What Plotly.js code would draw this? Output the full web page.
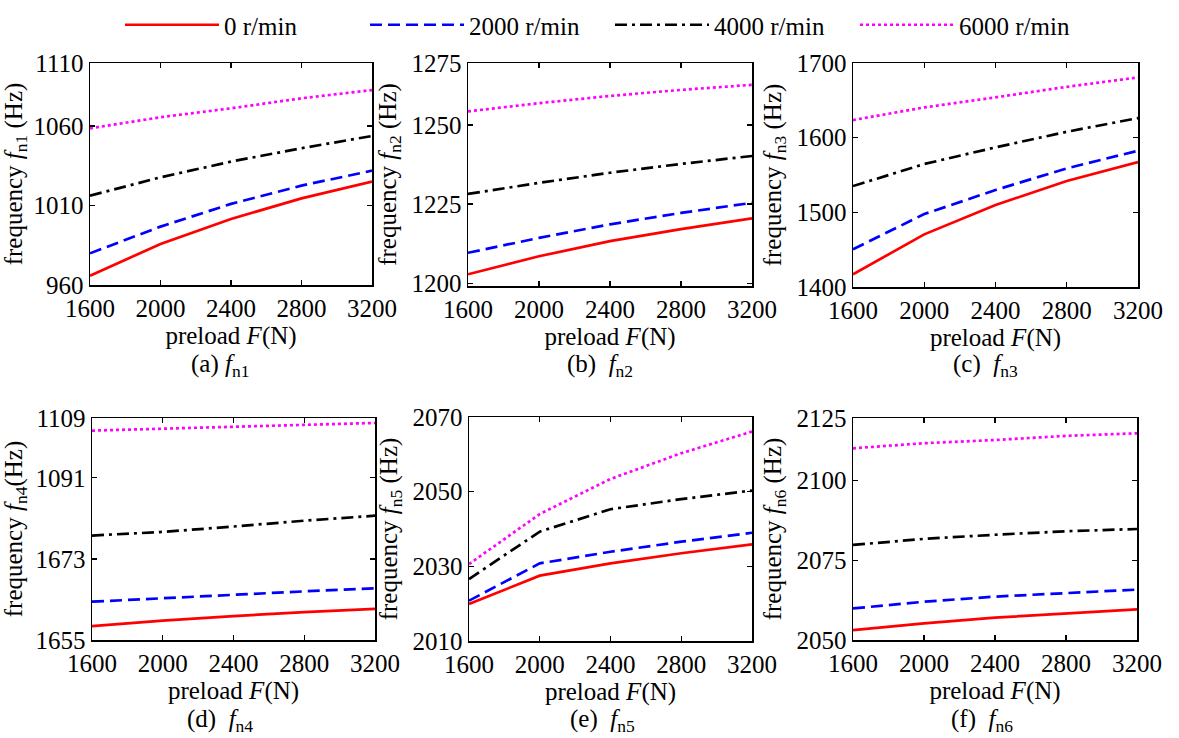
<!DOCTYPE html>
<html>
<head>
<meta charset="utf-8">
<script src="https://cdn.plot.ly/plotly-3.0.1.min.js"></script>
<style>html,body{margin:0;padding:0;background:#fff;}#chart{width:1179px;height:738px;}</style>
</head>
<body>
<div id="chart"></div>
<script>
// ---------- data ----------
const preload = [1600, 2000, 2400, 2800, 3200];
const preloadTickText = ['1600', '2000', '2400', '2800', '3200'];
const speedNames = ['0 r/min', '2000 r/min', '4000 r/min', '6000 r/min'];

const fn1_0    = [965.8, 985.8, 1001.5, 1014.5, 1025.0];
const fn1_2000 = [979.9, 996.7, 1011.0, 1022.5, 1031.9];
const fn1_4000 = [1016.2, 1027.7, 1037.6, 1046.0, 1053.7];
const fn1_6000 = [1058.5, 1065.5, 1071.1, 1077.4, 1082.6];

const fn2_0    = [1202.8, 1208.5, 1213.3, 1217.1, 1220.5];
const fn2_2000 = [1209.6, 1214.3, 1218.6, 1222.2, 1225.4];
const fn2_4000 = [1228.2, 1231.7, 1234.9, 1237.7, 1240.2];
const fn2_6000 = [1254.3, 1256.9, 1259.2, 1261.1, 1262.7];

const fn3_0    = [1417.0, 1470.5, 1509.8, 1541.9, 1567.3];
const fn3_2000 = [1450.5, 1497.7, 1529.9, 1558.9, 1582.5];
const fn3_4000 = [1535.2, 1564.7, 1587.0, 1607.9, 1626.2];
const fn3_6000 = [1623.6, 1640.5, 1654.0, 1668.1, 1680.7];

const fn4_0    = [1658.1, 1659.3, 1660.3, 1661.2, 1661.9];
const fn4_2000 = [1663.5, 1664.3, 1665.0, 1665.8, 1666.5];
const fn4_4000 = [1678.2, 1679.0, 1680.2, 1681.5, 1682.6];
const fn4_6000 = [1701.5, 1701.9, 1702.3, 1702.7, 1703.2];

const fn5_0    = [2019.9, 2027.5, 2030.8, 2033.5, 2035.9];
const fn5_2000 = [2020.8, 2030.8, 2033.9, 2036.6, 2039.0];
const fn5_4000 = [2026.6, 2039.3, 2045.3, 2048.0, 2050.3];
const fn5_6000 = [2030.6, 2044.0, 2053.4, 2060.3, 2066.1];

const fn6_0    = [2053.1, 2055.2, 2057.0, 2058.4, 2059.6];
const fn6_2000 = [2059.9, 2062.0, 2063.6, 2064.8, 2065.8];
const fn6_4000 = [2079.8, 2081.7, 2083.0, 2084.1, 2084.8];
const fn6_6000 = [2110.1, 2111.7, 2112.7, 2114.0, 2114.8];

// y tick positions and the labels printed in the original figure
const fn1Range = [960, 1099.6];    const fn1TickVals = [960, 1010, 1060, 1099.6];   const fn1TickText = ['960', '1010', '1060', '1110'];
const fn2Range = [1199.1, 1269.6]; const fn2TickVals = [1200, 1225, 1250, 1269.6];  const fn2TickText = ['1200', '1225', '1250', '1275'];
const fn3Range = [1400, 1700];     const fn3TickVals = [1400, 1500, 1600, 1700];    const fn3TickText = ['1400', '1500', '1600', '1700'];
const fn4Range = [1655, 1704.3];   const fn4TickVals = [1655, 1673, 1691, 1704.3];  const fn4TickText = ['1655', '1673', '1091', '1109'];
const fn5Range = [2010, 2070];     const fn5TickVals = [2010, 2030, 2050, 2070];    const fn5TickText = ['2010', '2030', '2050', '2070'];
const fn6Range = [2050, 2119.6];   const fn6TickVals = [2050, 2075, 2100, 2119.6];  const fn6TickText = ['2050', '2075', '2100', '2125'];

const yTitles = [
  'frequency <i>f</i><sub>n1</sub> (Hz)',
  'frequency <i>f</i><sub>n2</sub> (Hz)',
  'frequency <i>f</i><sub>n3</sub> (Hz)',
  'frequency <i>f</i><sub>n4</sub>(Hz)',
  'frequency <i>f</i><sub>n5</sub> (Hz)',
  'frequency <i>f</i><sub>n6</sub> (Hz)'
];
const captions = [
  '(a) <i>f</i><sub>n1</sub>',
  '(b)  <i>f</i><sub>n2</sub>',
  '(c)  <i>f</i><sub>n3</sub>',
  '(d)  <i>f</i><sub>n4</sub>',
  '(e)  <i>f</i><sub>n5</sub>',
  '(f)  <i>f</i><sub>n6</sub>'
];
const xTitle = 'preload <i>F</i>(N)';

// ---------- build ----------
const W = 1179, H = 738;
const panels = [
  {series: [fn1_0, fn1_2000, fn1_4000, fn1_6000], range: fn1Range, tv: fn1TickVals, tt: fn1TickText, box: [90, 372, 63, 285],  cap: [220, 365]},
  {series: [fn2_0, fn2_2000, fn2_4000, fn2_6000], range: fn2Range, tv: fn2TickVals, tt: fn2TickText, box: [468, 752, 63, 286], cap: [600, 365]},
  {series: [fn3_0, fn3_2000, fn3_4000, fn3_6000], range: fn3Range, tv: fn3TickVals, tt: fn3TickText, box: [853, 1138, 63, 287], cap: [985, 365]},
  {series: [fn4_0, fn4_2000, fn4_4000, fn4_6000], range: fn4Range, tv: fn4TickVals, tt: fn4TickText, box: [92, 375, 418, 640], cap: [220, 720]},
  {series: [fn5_0, fn5_2000, fn5_4000, fn5_6000], range: fn5Range, tv: fn5TickVals, tt: fn5TickText, box: [469, 752, 417, 641], cap: [602, 720]},
  {series: [fn6_0, fn6_2000, fn6_4000, fn6_6000], range: fn6Range, tv: fn6TickVals, tt: fn6TickText, box: [853, 1137, 418, 640], cap: [982, 720]}
];
const styles = [
  {color: '#ff0000', dash: 'solid'},
  {color: '#0000ff', dash: '12px,6px'},
  {color: '#000000', dash: '12px,5px,3px,5px'},
  {color: '#ff00ff', dash: '3px,3px'}
];

const data = [];
const layout = {
  width: W, height: H,
  margin: {l: 0, r: 0, t: 0, b: 0},
  paper_bgcolor: '#ffffff', plot_bgcolor: '#ffffff',
  font: {family: '"Liberation Serif", "Times New Roman", serif', size: 25, color: '#000000'},
  showlegend: true,
  legend: {
    orientation: 'h', x: 120 / W, xanchor: 'left', y: 1 - 2 / H, yanchor: 'top',
    itemwidth: 94, entrywidth: 136, entrywidthmode: 'pixels',
    font: {size: 25}, bgcolor: 'rgba(0,0,0,0)', itemclick: false, itemdoubleclick: false
  },
  annotations: []
};

panels.forEach((p, i) => {
  const n = i + 1;
  const xa = 'x' + (n === 1 ? '' : n), ya = 'y' + (n === 1 ? '' : n);
  p.series.forEach((s, k) => {
    data.push({
      x: preload, y: s, xaxis: xa, yaxis: ya, type: 'scatter', mode: 'lines',
      name: speedNames[k], legendgroup: speedNames[k], showlegend: i === 0,
      line: {color: styles[k].color, dash: styles[k].dash, width: 2.7}
    });
  });
  const [x0, x1, y0, y1] = p.box;
  const common = {
    showline: true, linecolor: '#000', linewidth: 1.5, mirror: 'ticks',
    ticks: 'inside', ticklen: 5, tickwidth: 1.2, tickcolor: '#000',
    showgrid: false, zeroline: false, automargin: false,
    tickfont: {size: 25, family: '"Liberation Serif", "Times New Roman", serif'}
  };
  layout['xaxis' + (n === 1 ? '' : n)] = Object.assign({}, common, {
    domain: [x0 / W, x1 / W], anchor: ya, range: [1600, 3200],
    tickvals: preload, ticktext: preloadTickText,
    title: {text: xTitle, standoff: 6, font: {size: 25}}
  });
  layout['yaxis' + (n === 1 ? '' : n)] = Object.assign({}, common, {
    domain: [1 - y1 / H, 1 - y0 / H], anchor: xa, range: p.range,
    tickvals: p.tv, ticktext: p.tt,
    title: {text: yTitles[i], standoff: 8, font: {size: 25}}
  });
  layout.annotations.push({
    xref: 'paper', yref: 'paper', x: p.cap[0] / W, y: 1 - p.cap[1] / H,
    xanchor: 'center', yanchor: 'middle', showarrow: false,
    text: captions[i], font: {size: 25}
  });
});

Plotly.newPlot('chart', data, layout, {displayModeBar: false, staticPlot: true});
</script>
</body>
</html>
